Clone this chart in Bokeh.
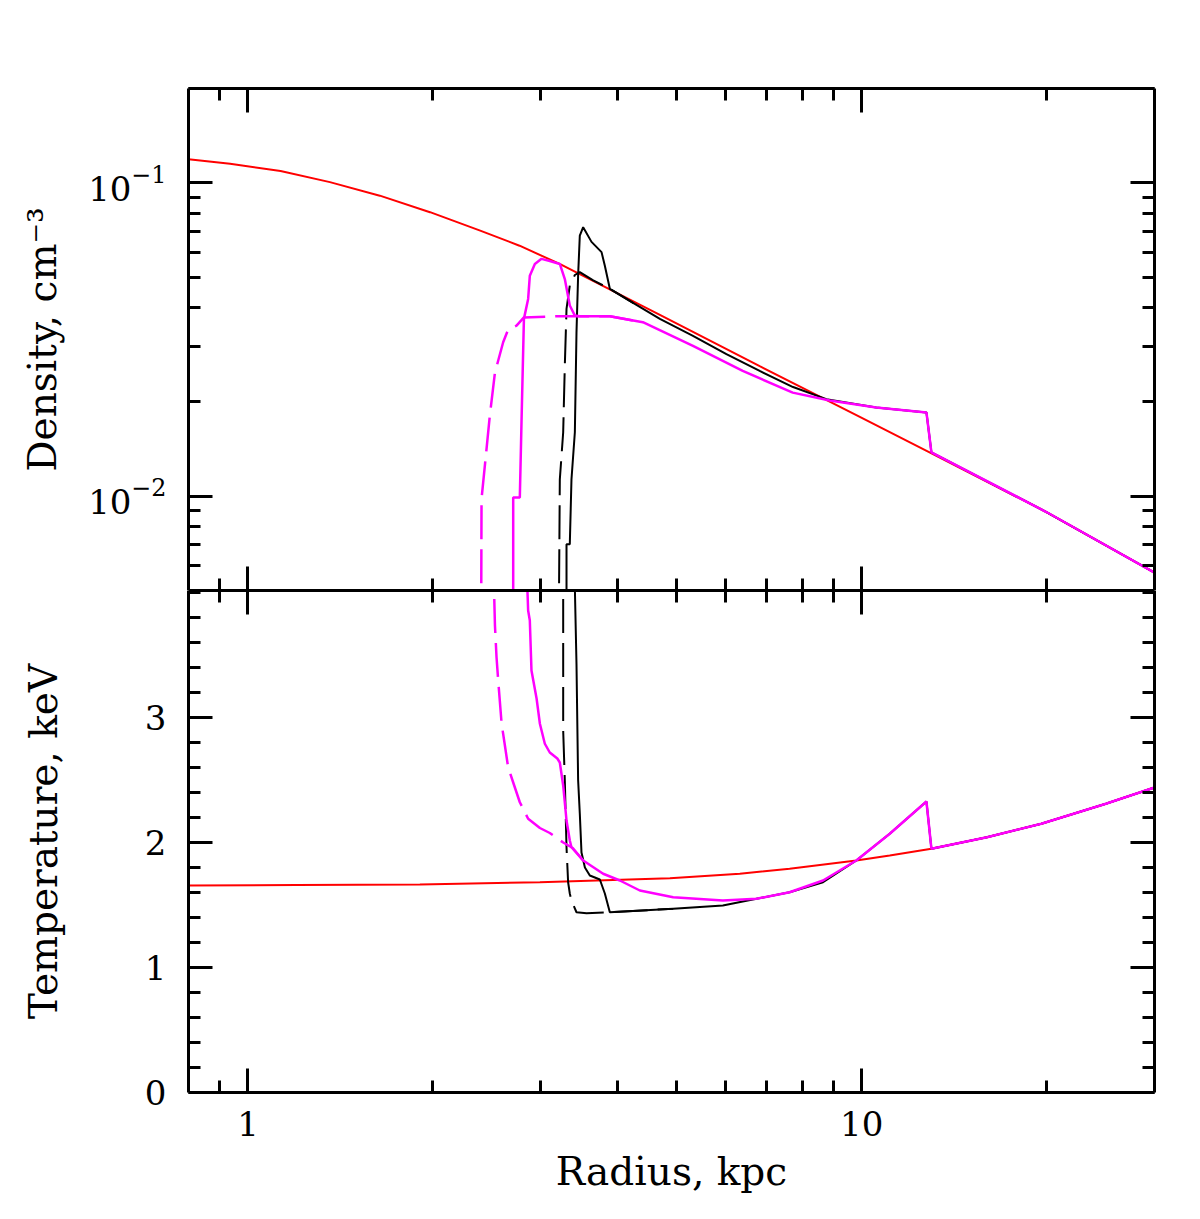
from bokeh.plotting import figure
from bokeh.layouts import column
from bokeh.models import (LogAxis, LinearAxis, FixedTicker, LogTickFormatter,
                          BasicTickFormatter, CustomJSTickFormatter)
from bokeh.embed import file_html
from bokeh.resources import INLINE

FONT = "DejaVu Serif"
RED = "#ff0000"
MAGENTA = "#ff00ff"

# ---- density profiles (cm^-3) vs radius (kpc) ----
dens_init_r = [0.8, 0.935, 1.13, 1.36, 1.64, 1.98, 2.39, 2.77, 3.22, 4.69, 6.82, 9.93, 12.9, 20.0, 30.0]
dens_init_n = [0.119, 0.115, 0.109, 0.1005, 0.091, 0.0806, 0.0704, 0.0630, 0.0551, 0.0379, 0.0260,
               0.0179, 0.0138, 0.0089, 0.0057]

dens_a_r = [3.304, 3.304, 3.345, 3.366, 3.409, 3.430, 3.451, 3.473, 3.517, 3.629, 3.768, 3.815,
            3.887, 4.248, 4.69, 5.31, 6.02, 6.82, 7.73, 8.76, 10.56, 12.75, 12.99, 20.0, 30.0]
dens_a_n = [0.002, 0.00703, 0.00703, 0.0113, 0.0160, 0.0333, 0.0506, 0.0679, 0.0722, 0.0648, 0.0601,
            0.0544, 0.0459, 0.0413, 0.0368, 0.0325, 0.0284, 0.0251, 0.0223, 0.0204, 0.0192, 0.0185,
            0.0138, 0.0089, 0.0057]

dens_a2_r = [3.202, 3.222, 3.263, 3.283, 3.304, 3.345, 3.409, 3.473, 3.652, 3.887, 4.248]
dens_a2_n = [0.002, 0.0113, 0.0160, 0.0261, 0.0396, 0.0470, 0.0508, 0.0519, 0.0488, 0.0459, 0.0413]

dens_b_r = [2.705, 2.705, 2.773, 2.792, 2.816, 2.861, 2.879, 2.934, 3.008, 3.103, 3.222, 3.283,
            3.345, 3.409, 3.473, 3.887, 4.40, 5.31, 6.40, 7.72, 8.87, 10.56, 12.75, 12.99, 20.0, 30.0]
dens_b_n = [0.002, 0.0099, 0.0099, 0.0180, 0.0368, 0.0426, 0.0505, 0.0551, 0.0572, 0.0563, 0.0551,
            0.0493, 0.0406, 0.0377, 0.0375, 0.0375, 0.0359, 0.0302, 0.0251, 0.0214, 0.0202, 0.0192,
            0.0185, 0.0138, 0.0089, 0.0057]

dens_b2_r = [2.396, 2.402, 2.447, 2.478, 2.526, 2.605, 2.654, 2.739, 2.816, 3.183, 3.473, 3.887, 4.40]
dens_b2_n = [0.002, 0.0098, 0.0141, 0.0181, 0.0248, 0.0310, 0.0340, 0.0350, 0.0372, 0.0375, 0.0375,
             0.0375, 0.0359]

# ---- temperature profiles (keV) vs radius (kpc) ----
temp_init_r = [0.8, 1.2, 1.906, 2.99, 4.87, 6.33, 7.63, 9.80, 11.11, 12.99, 16.0, 19.62, 25.0, 30.0]
temp_init_t = [1.656, 1.660, 1.664, 1.682, 1.714, 1.750, 1.790, 1.856, 1.896, 1.950, 2.042, 2.150,
               2.310, 2.440]

temp_a_r = [3.400, 3.430, 3.451, 3.473, 3.495, 3.540, 3.606, 3.744, 3.815, 3.887, 4.93, 5.94, 6.74,
            7.63, 8.65, 9.80, 11.11, 12.75, 12.99, 16.0, 19.62, 25.0, 30.0]
temp_a_t = [4.30, 3.43, 2.50, 2.23, 1.92, 1.80, 1.736, 1.704, 1.592, 1.442, 1.470, 1.496, 1.550,
            1.602, 1.682, 1.856, 2.070, 2.328, 1.950, 2.042, 2.150, 2.310, 2.440]

temp_a2_r = [3.263, 3.263, 3.283, 3.304, 3.324, 3.345, 3.366, 3.430, 3.562, 3.887, 4.93]
temp_a2_t = [4.30, 2.896, 2.496, 1.962, 1.682, 1.592, 1.536, 1.442, 1.434, 1.442, 1.470]

temp_b_r = [2.840, 2.861, 2.879, 2.897, 2.953, 2.99, 3.046, 3.103, 3.192, 3.222, 3.263, 3.304,
            3.345, 3.366, 3.517, 3.791, 4.036, 4.35, 4.93, 5.94, 6.74, 7.63, 8.65, 9.80, 11.11,
            12.75, 12.99, 16.0, 19.62, 25.0, 30.0]
temp_b_t = [4.30, 3.856, 3.776, 3.376, 3.152, 2.950, 2.790, 2.720, 2.672, 2.640, 2.456, 2.176,
            2.016, 1.962, 1.856, 1.750, 1.696, 1.616, 1.562, 1.536, 1.550, 1.602, 1.696, 1.856,
            2.070, 2.328, 1.950, 2.042, 2.150, 2.310, 2.440]

temp_b2_r = [2.509, 2.526, 2.541, 2.557, 2.590, 2.622, 2.654, 2.705, 2.773, 2.861, 2.99, 3.103,
             3.263, 3.382, 3.517]
temp_b2_t = [4.30, 3.736, 3.482, 3.296, 2.950, 2.776, 2.602, 2.480, 2.322, 2.190, 2.116, 2.076,
             2.000, 1.956, 1.856]

# ---- tick positions ----
r_major = [1, 10]
r_minor = [0.9, 2, 3, 4, 5, 6, 7, 8, 9, 20]
n_major = [0.01, 0.1]
n_minor = [0.005, 0.006, 0.007, 0.008, 0.009, 0.02, 0.03, 0.04, 0.05, 0.06, 0.07, 0.08, 0.09, 0.2]
t_major = [0, 1, 2, 3]
t_minor = [0.2, 0.4, 0.6, 0.8, 1.2, 1.4, 1.6, 1.8, 2.2, 2.4, 2.6, 2.8, 3.2, 3.4, 3.6, 3.8, 4.0]

LEFT, RIGHT = 188, 46
PANEL_H = 502


def style_axis(ax, labelled):
    ax.axis_line_width = 3
    ax.axis_line_color = "black"
    ax.major_tick_line_width = 3
    ax.minor_tick_line_width = 3
    ax.major_tick_line_color = "black"
    ax.minor_tick_line_color = "black"
    ax.major_tick_in = 24
    ax.major_tick_out = 0
    ax.minor_tick_in = 12
    ax.minor_tick_out = 0
    if labelled:
        ax.major_label_text_font = FONT
        ax.major_label_text_font_size = "34px"
        ax.major_label_text_color = "black"
        ax.axis_label_text_font = FONT
        ax.axis_label_text_font_size = "39px"
        ax.axis_label_text_font_style = "normal"
        ax.axis_label_text_color = "black"
    else:
        # tick marks only, no labels
        ax.formatter = CustomJSTickFormatter(code="return ''")
        ax.major_label_text_font_size = "1px"
        ax.major_label_standoff = 0


def make_axis(cls, major, minor, labelled, formatter=None, label=None):
    kw = dict(ticker=FixedTicker(ticks=major, minor_ticks=minor))
    if formatter is not None:
        kw["formatter"] = formatter
    ax = cls(**kw)
    if label is not None:
        ax.axis_label = label
    style_axis(ax, labelled)
    return ax


def base_fig(height, y_type, y_range, border_top, border_bottom):
    p = figure(width=1200, height=height, x_axis_type="log", y_axis_type=y_type,
               x_range=(0.8, 30), y_range=y_range,
               x_axis_location=None, y_axis_location=None,
               toolbar_location=None, output_backend="svg",
               min_border_left=LEFT, min_border_right=RIGHT,
               min_border_top=border_top, min_border_bottom=border_bottom)
    p.xgrid.grid_line_color = None
    p.ygrid.grid_line_color = None
    p.outline_line_color = None
    p.background_fill_color = "white"
    p.border_fill_color = "white"
    return p


# ---- upper panel: density ----
top = base_fig(88 + PANEL_H, "log", (0.005, 0.2), 88, 0)
top.add_layout(make_axis(LogAxis, r_major, r_minor, False), "above")
top.add_layout(make_axis(LogAxis, r_major, r_minor, False), "below")
top.add_layout(make_axis(LogAxis, n_major, n_minor, False), "right")
yl = make_axis(LogAxis, n_major, n_minor, True, LogTickFormatter(), "Density, cm\u207b\u00b3")
yl.major_label_standoff = 22
yl.axis_label_standoff = 20
top.add_layout(yl, "left")

top.line(dens_init_r, dens_init_n, line_color=RED, line_width=2)
top.line(dens_a2_r, dens_a2_n, line_color="black", line_width=2, line_dash="34 10")
top.line(dens_a_r, dens_a_n, line_color="black", line_width=2)
top.line(dens_b2_r, dens_b2_n, line_color=MAGENTA, line_width=2.5, line_dash="34 10")
top.line(dens_b_r, dens_b_n, line_color=MAGENTA, line_width=2.5)

# ---- lower panel: temperature ----
bot = base_fig(PANEL_H + 127, "linear", (0, 4.016), 0, 127)
bot.add_layout(make_axis(LogAxis, r_major, r_minor, False), "above")
bot.add_layout(make_axis(LinearAxis, t_major, t_minor, False), "right")
xb = make_axis(LogAxis, r_major, r_minor, True, BasicTickFormatter(), "Radius, kpc")
xb.major_label_standoff = 18
xb.axis_label_standoff = 10
bot.add_layout(xb, "below")
tl = make_axis(LinearAxis, t_major, t_minor, True, BasicTickFormatter(), "Temperature, keV")
tl.major_label_standoff = 22
tl.axis_label_standoff = 76
bot.add_layout(tl, "left")

bot.line(temp_init_r, temp_init_t, line_color=RED, line_width=2)
bot.line(temp_a2_r, temp_a2_t, line_color="black", line_width=2, line_dash="34 10")
bot.line(temp_a_r, temp_a_t, line_color="black", line_width=2)
bot.line(temp_b2_r, temp_b2_t, line_color=MAGENTA, line_width=2.5, line_dash="34 10")
bot.line(temp_b_r, temp_b_t, line_color=MAGENTA, line_width=2.5)

layout = column(top, bot, spacing=0)

with open("out.html", "w") as f:
    f.write(file_html(layout, INLINE))
